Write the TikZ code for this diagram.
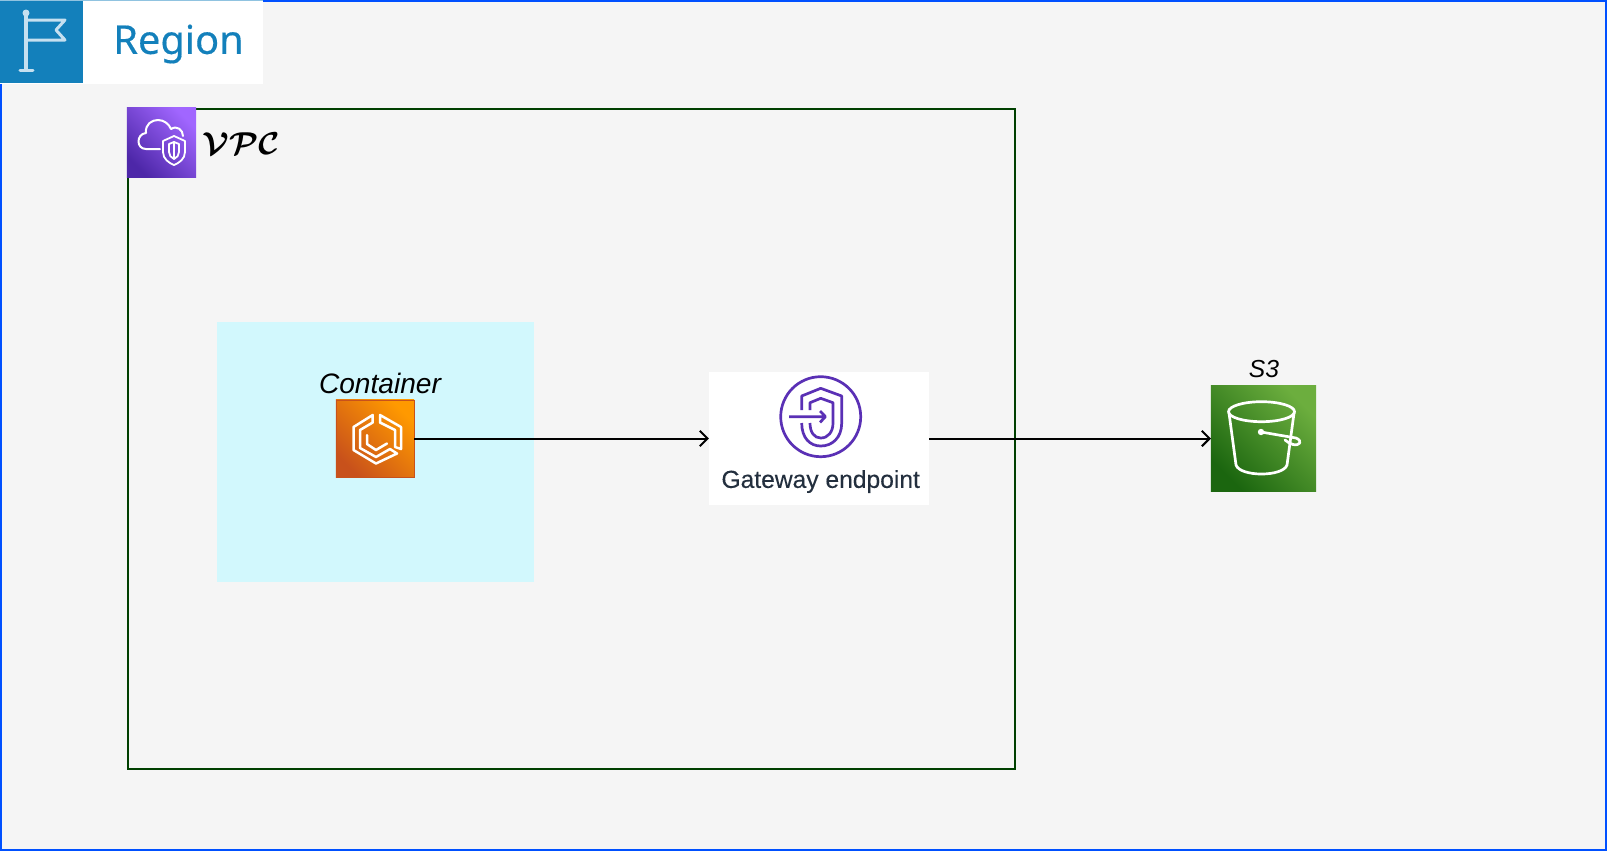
\documentclass[tikz,border=0pt]{standalone}
\usepackage{amsmath,amssymb}
\usepackage{fontspec}
\setmainfont{Liberation Sans}
\newfontfamily\regionfont[FakeBold=0.4]{Noto Sans}
\newfontfamily\gatewayfont[FakeBold=0.2]{Liberation Sans}
\usetikzlibrary{arrows.meta}
\definecolor{framecol}{HTML}{0050FF}
\definecolor{backcol}{HTML}{F5F5F5}
\definecolor{regioncol}{HTML}{1380BB}
\definecolor{flagcol}{HTML}{C5E0F0}
\definecolor{vpccol}{HTML}{004000}
\definecolor{tealcol}{HTML}{D2F8FD}
\definecolor{purplecol}{HTML}{5A30B5}
\definecolor{inkcol}{HTML}{232F3E}
\definecolor{vpclow}{HTML}{4D27A8}
\definecolor{vpchigh}{HTML}{A166FF}
\definecolor{ecslow}{HTML}{C8511B}
\definecolor{ecshigh}{HTML}{FF9900}
\definecolor{s3low}{HTML}{1B660F}
\definecolor{s3high}{HTML}{6CAE3E}
\tikzset{
  box/.style={rectangle,inner sep=0pt,outer sep=0pt},
  iconline/.style={draw=white,line width=0.027cm,line join=round,line cap=round},
  gateline/.style={draw=purplecol,line width=0.027cm,line join=round},
  flagline/.style={draw=flagcol,line width=0.03cm,line join=round,line cap=round},
  flow/.style={line width=0.02cm,-{Straight Barb[length=2.2pt,width=4.4pt]}},
}
\begin{document}
\begin{tikzpicture}[x=0.01cm,y=-0.01cm]
\useasboundingbox (0,0) rectangle (1607,851);
\fill[backcol] (0,0) rectangle (1607,851);
\node (frame) [box,draw=framecol,line width=0.02cm,minimum width=16.05cm,minimum height=8.49cm] at (803.5,425.5) {};
% region tag
\node (regiontag) [box,fill=white,minimum width=2.63cm,minimum height=0.84cm] at (131.5,42) {};
\node (regionflag) [box,fill=regioncol,minimum width=0.83cm,minimum height=0.83cm] at (41.5,41.5) {};
\node (regionlabel) [text=regioncol] at (178.5,44) {\regionfont\fontsize{11.3pt}{12pt}\selectfont Region};
\draw[flagline] (26,14)--(26,70);
\draw[flagline] (20,70)--(33,70);
\draw[flagline] (26,20)--(65,20)--(56,30)--(65,40)--(26,40);
\fill[flagcol] (26,13) circle (3.5);
\draw[flagcol!70!regioncol,line width=0.01cm] (0,0.5)--(263,0.5);
% vpc
\node (vpcbox) [box,draw=vpccol,line width=0.02cm,minimum width=8.87cm,minimum height=6.60cm] at (571.5,439) {};
\node (vpcicon) [box,top color=vpchigh,bottom color=vpclow,shading angle=-45,minimum width=0.69cm,minimum height=0.69cm] at (161.5,142.5) {};
\draw[iconline,line width=0.02cm] (160,149)--(146,149) .. controls (136,149) and (136,134) .. (146,133)
  .. controls (145,124) and (152,120) .. (158,120) .. controls (164,120) and (169,124) .. (171,129)
  .. controls (177,125) and (183,130) .. (183,136);
\draw[iconline,line width=0.018cm] (163,141)--(174,136)--(185,141)--(185,152) .. controls (185,159) and (179,163) .. (174,165)
  .. controls (169,163) and (163,159) .. (163,152)--cycle;
\draw[iconline,line width=0.018cm] (169,144)--(174,142)--(179,144)--(179,152) .. controls (179,155) and (177,158) .. (174,159)
  .. controls (171,158) and (169,155) .. (169,152)--cycle;
\draw[iconline,line width=0.018cm] (174,142)--(174,159);
\node (vpclabel) at (241,144) {{\fontsize{9.5pt}{11pt}\selectfont\boldmath$\mathcal{VPC}$}};
% container
\node (task) [box,fill=tealcol,minimum width=3.17cm,minimum height=2.60cm] at (375.5,452) {};
\node (containerlabel) at (380,383) {\fontsize{8pt}{9pt}\selectfont\itshape Container};
\node (container) [box,draw=ecslow,line width=0.008cm,top color=ecshigh,bottom color=ecslow,shading angle=-45,minimum width=0.78cm,minimum height=0.77cm] at (375,438.5) {};
\draw[iconline,line width=0.025cm] (372.7,415)--(353.5,427)--(353.5,450)--(376,463.5)--(397,453.5)--(390,449)--(376,457)--(360,448)--(360,430)--(372.7,422.5)--cycle;
\draw[iconline,line width=0.025cm] (380,415)--(401,427)--(401,449)--(395,447)--(395,430)--(380,422.5)--cycle;
\draw[iconline,line width=0.025cm] (367,435)--(367,444)--(376,450)--(387,443.5);
% gateway
\node (gateway) [box,fill=white,minimum width=2.20cm,minimum height=1.33cm] at (819,438.5) {};
\draw[gateline] (820.7,416.7) circle (40);
\draw[gateline] (801.7,410)--(801.7,396)--(820.7,388.3)--(841.7,396)--(841.7,423) .. controls (841.7,438) and (832,446) .. (820.7,446) .. controls (810,446) and (801.7,438) .. (801.7,423);
\draw[gateline] (810,410)--(810,402.7)--(820.7,398.3)--(833,402.7)--(833,423) .. controls (833,432) and (828,438) .. (820.7,438) .. controls (814,438) and (810,432) .. (810,423);
\draw[gateline] (789,416.7)--(825,416.7) (820,411)--(825.5,416.7)--(820,422.4);
\node (gatewaylabel) [text=inkcol] at (820.7,481.5) {\gatewayfont\fontsize{7pt}{8pt}\selectfont Gateway endpoint};
% s3
\node (s3label) at (1264,369) {\fontsize{7pt}{8pt}\selectfont\itshape S3};
\node (s3) [box,top color=s3high,bottom color=s3low,shading angle=-45,minimum width=1.05cm,minimum height=1.05cm] at (1263.5,438.5) {};
\draw[iconline] (1261.5,411.7) ellipse (33 and 10);
\draw[iconline] (1229,413)--(1236,465) .. controls (1240,477) and (1283,477) .. (1287,465)--(1294,413);
\draw[iconline] (1261,432)--(1296,438) .. controls (1303,441) and (1300,446) .. (1293,444.5) .. controls (1290,443.5) and (1287,442) .. (1285,440);
\fill[white] (1261,432) circle (3.2);
% arrows
\draw[flow] (container.east)--(gateway.west);
\draw[flow] (gateway.east)--(s3.west);
\end{tikzpicture}
\end{document}
